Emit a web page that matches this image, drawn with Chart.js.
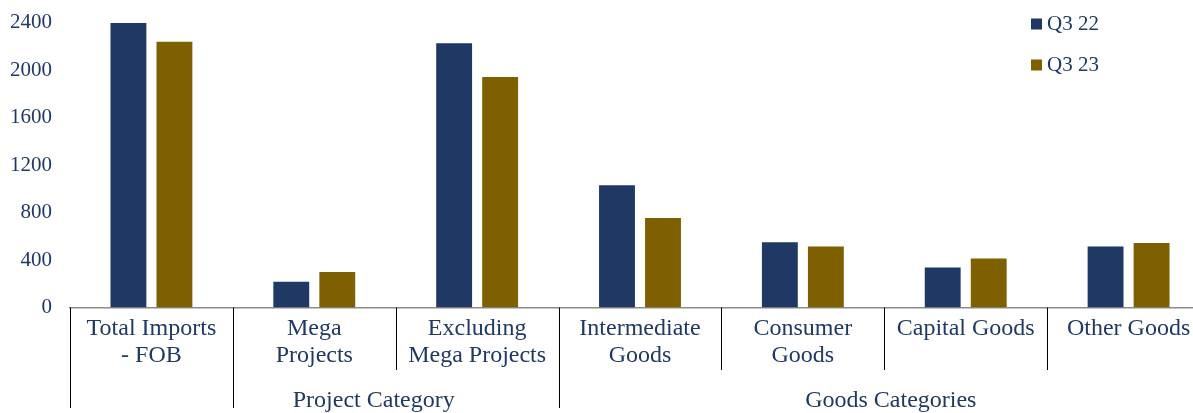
<!DOCTYPE html>
<html>
<head>
<meta charset="utf-8">
<title>Imports by category, Q3 22 vs Q3 23</title>
<script src="https://cdn.jsdelivr.net/npm/chart.js@4.4.1/dist/chart.umd.min.js"></script>
<style>
  html, body { margin: 0; padding: 0; background: #fff; overflow: hidden; }
  #wrap { width: 1213px; height: 413px; }
</style>
</head>
<body>
<div id="wrap"><canvas id="importsChart" width="1213" height="413"></canvas></div>
<script>
// Category labels (multi-line) and the two quarters being compared
const categories = [
    ['Total Imports', '- FOB'],
    ['Mega', 'Projects'],
    ['Excluding', 'Mega Projects'],
    ['Intermediate', 'Goods'],
    ['Consumer', 'Goods'],
    ['Capital Goods'],
    ['Other Goods']
];
const seriesNames = ['Q3 22', 'Q3 23'];
const q3_22 = [2398, 217, 2226, 1030, 550, 337, 514];
const q3_23 = [2239, 299, 1942, 755, 514, 413, 544];
const yTicks = [0, 400, 800, 1200, 1600, 2000, 2400];

// Second level of the x axis: name, first and last category index, anchor index for the text
const groupNames = ['', 'Project Category', 'Goods Categories'];
const groupFirst = [0, 1, 3];
const groupLast = [0, 2, 6];
const groupAnchor = [0, 1.365, 4.54];

const NAVY = '#1F3864';
const GOLD = '#7F6000';
const TEXT = '#1F3864';
const FONT = '"Liberation Serif", "Times New Roman", serif';

// Draws the divider lines under the axis, the group labels and the legend
const multiLevelAxis = {
    id: 'multiLevelAxis',
    afterDraw(chart) {
        const ctx = chart.ctx;
        const x = chart.scales.x;
        const half = (x.getPixelForTick(1) - x.getPixelForTick(0)) / 2;
        const top = chart.chartArea.bottom;

        // category boundaries; group edges run the full depth
        const groupEdges = new Set();
        groupFirst.forEach(i => groupEdges.add(i));
        groupLast.forEach(i => groupEdges.add(i + 1));

        ctx.save();
        ctx.strokeStyle = '#000';
        ctx.lineWidth = 1;
        for (let i = 0; i <= categories.length; i++) {
            const px = Math.round(x.getPixelForTick(0) - half + i * 2 * half) + 0.5;
            const bottom = groupEdges.has(i) ? 408 : 370;
            ctx.beginPath();
            ctx.moveTo(px, top);
            ctx.lineTo(px, bottom);
            ctx.stroke();
        }

        ctx.fillStyle = TEXT;
        ctx.font = '24px ' + FONT;
        ctx.textAlign = 'center';
        ctx.textBaseline = 'middle';
        groupNames.forEach((name, g) => {
            if (!name) return;
            ctx.fillText(name, x.getPixelForValue(groupAnchor[g]), 401);
        });

        // legend, stacked in the top right corner
        ctx.font = '21px ' + FONT;
        ctx.textAlign = 'left';
        chart.data.datasets.forEach((ds, k) => {
            const cy = 24 + k * 41;
            ctx.fillStyle = ds.backgroundColor;
            ctx.fillRect(1031, cy - 5.5, 11, 11);
            ctx.fillStyle = TEXT;
            ctx.fillText(ds.label, 1047, cy);
        });
        ctx.restore();
    }
};

const ctx = document.getElementById('importsChart').getContext('2d');
const chart = new Chart(ctx, {
    type: 'bar',
    data: {
        labels: categories,
        datasets: [{
            label: seriesNames[0],
            data: q3_22,
            backgroundColor: NAVY,
            categoryPercentage: 0.565,
            barPercentage: 0.78
        }, {
            label: seriesNames[1],
            data: q3_23,
            backgroundColor: GOLD,
            categoryPercentage: 0.565,
            barPercentage: 0.78
        }]
    },
    options: {
        responsive: false,
        animation: false,
        layout: { padding: { top: 22.7, left: 0, right: 3, bottom: 0 } },
        plugins: {
            legend: { display: false },
            tooltip: { enabled: false }
        },
        scales: {
            x: {
                grid: { display: false, drawTicks: false },
                border: { display: true, color: '#8C8C8C', width: 1.5 },
                ticks: {
                    color: TEXT,
                    font: { family: FONT, size: 24, lineHeight: 1.125 },
                    padding: 8,
                    maxRotation: 0,
                    autoSkip: false
                },
                afterFit: (scale) => { scale.height = 105.5; }
            },
            y: {
                min: 0,
                max: 2400,
                afterBuildTicks: (scale) => { scale.ticks = yTicks.map(v => ({ value: v })); },
                grid: { display: false, drawTicks: false },
                border: { display: false },
                ticks: {
                    color: TEXT,
                    font: { family: FONT, size: 21 },
                    padding: 18,
                    callback: (value) => String(value)
                },
                afterFit: (scale) => {
                    scale.width = 70;
                    // keep the plot top fixed by the layout padding alone
                    scale.paddingTop = 0;
                    scale.paddingBottom = 0;
                }
            }
        }
    },
    plugins: [multiLevelAxis]
});
</script>
</body>
</html>
